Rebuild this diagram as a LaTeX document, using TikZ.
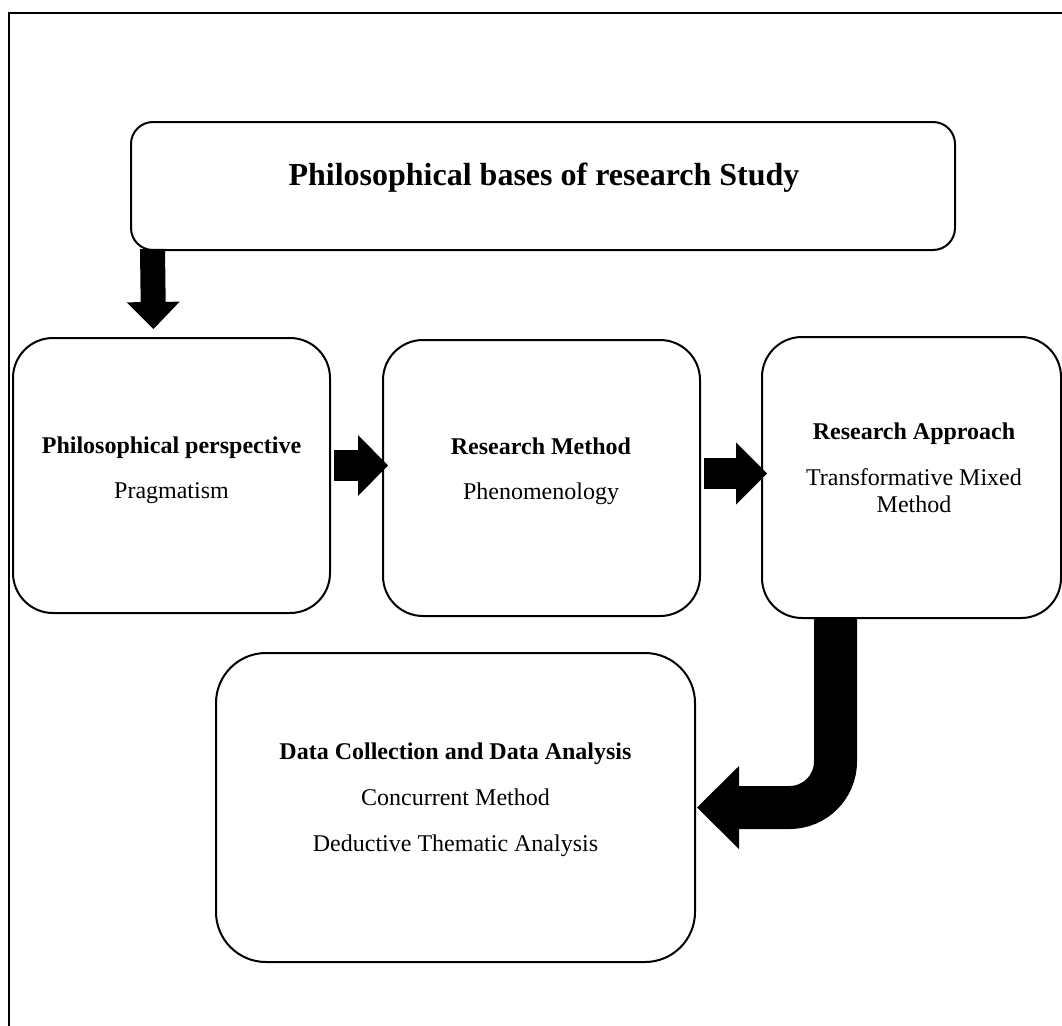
\documentclass[tikz,border=0pt]{standalone}
\usepackage{fontspec}
\setmainfont{Liberation Serif}
\usetikzlibrary{arrows.meta,calc}
\begin{document}
\begin{tikzpicture}[x=1pt,y=-1pt,
  box/.style={draw, line width=2pt, rounded corners=#1, inner sep=0pt, fill=white},
  box/.default=40pt,
  lbl/.style={anchor=base, inner sep=0pt, font=\fontsize{24pt}{27pt}\selectfont},
  lblb/.style={lbl, font=\fontsize{24pt}{27pt}\selectfont\bfseries},
  blk/.style={draw=black, line width=#1, line cap=butt}]
\useasboundingbox (0,0) rectangle (1062,1025);
\clip (0,0) rectangle (1062,1025);
\draw[line width=2.5pt] (9,13) rectangle (1080,1045);
% boxes
\node[box=22pt, minimum width=824pt, minimum height=128pt] (top) at (543,186) {};
\node[box, minimum width=317pt, minimum height=275pt] (b1) at (171.5,475.5) {};
\node[box, minimum width=317pt, minimum height=276pt] (b2) at (541.5,478) {};
\node[box, minimum width=299pt, minimum height=281pt] (b3) at (911.5,477.5) {};
\node[box=50pt, minimum width=479pt, minimum height=309pt] (b4) at (455.5,807.5) {};
% texts
\node[lblb, font=\fontsize{32pt}{36pt}\selectfont\bfseries] (ttl) at (544,185) {Philosophical bases of research Study};
\node[lblb] (t1a) at (171.5,453) {Philosophical perspective};
\node[lbl] (t1b) at (171.5,498) {Pragmatism};
\node[lblb] (t2a) at (541,454) {Research Method};
\node[lbl] (t2b) at (541,499) {Phenomenology};
\node[lblb] (t3a) at (914,439) {Research Approach};
\node[lbl] (t3b) at (914,485) {Transformative Mixed};
\node[lbl] (t3c) at (914,512.5) {Method};
\node[lblb] (t4a) at (455.5,759) {Data Collection and Data Analysis};
\node[lbl] (t4b) at (455.5,805) {Concurrent Method};
\node[lbl] (t4c) at (455.5,851.5) {Deductive Thematic Analysis};
% arrows
\draw[blk=25pt, -{Triangle[width=53pt,length=27pt,line width=0pt]}]
  ($(top.south west)+(22.5,-2)$) -- ($(b1.north)+(-18,-8)$);
\draw[blk=31pt, -{Triangle[width=61pt,length=30pt,line width=0pt]}]
  ($(b1.east)+(3,-10)$) -- ($(b2.west)+(6,-12.5)$);
\draw[blk=31pt, -{Triangle[width=62pt,length=31pt,line width=0pt]}]
  ($(b2.east)+(3,-4.5)$) -- ($(b3.west)+(6,-4)$);
\draw[blk=43pt, rounded corners=46pt, -{Triangle[width=83pt,length=42pt,line width=0pt]}]
  ($(b3.south)+(-76,-2)$) |- ($(b4.east)+(1,0)$);
\end{tikzpicture}
\end{document}
